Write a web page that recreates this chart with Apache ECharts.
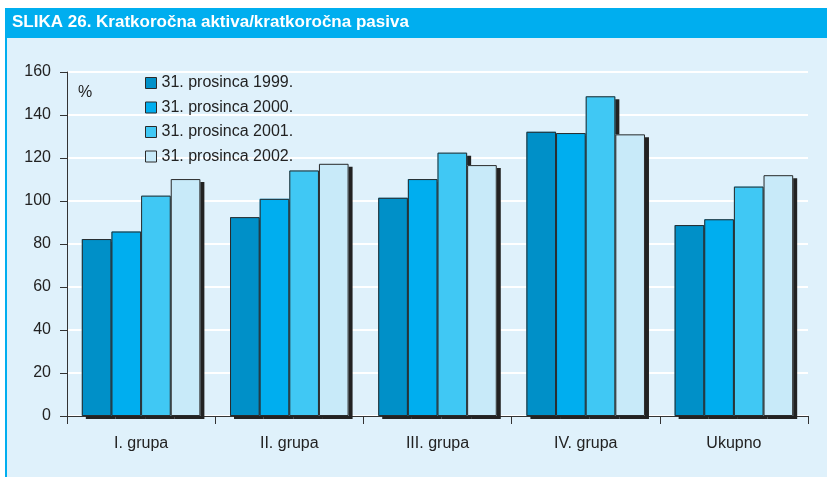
<!DOCTYPE html>
<html>
<head>
<meta charset="utf-8">
<script src="https://cdn.jsdelivr.net/npm/echarts@6/dist/echarts.min.js"></script>
<style>
  html, body { margin:0; padding:0; background:#fff; }
  #chart { width:827px; height:477px; }
</style>
</head>
<body>
<div id="chart"></div>
<script>
// kategorije i vrijednosti (%)
var categories = ['I. grupa', 'II. grupa', 'III. grupa', 'IV. grupa', 'Ukupno'];
var seriesNames = ['31. prosinca 1999.', '31. prosinca 2000.', '31. prosinca 2001.', '31. prosinca 2002.'];
var v1999 = [82.3, 92.5, 101.5, 132.2, 88.8];
var v2000 = [85.8, 101, 110.2, 131.6, 91.5];
var v2001 = [102.5, 114.2, 122.5, 148.7, 106.7];
var v2002 = [110.2, 117.3, 116.7, 131, 112];
var yTicks = [0, 20, 40, 60, 80, 100, 120, 140, 160];

var colors = ['#0090c8', '#00aeef', '#40c8f4', '#c8eaf9'];
var values = [v1999, v2000, v2001, v2002];
var font = 'Liberation Sans, Arial, sans-serif';

var series = [];
// stupci sa sjenom (bez ruba)
for (var i = 0; i < seriesNames.length; i++) {
    series.push({
        name: seriesNames[i],
        type: 'bar',
        xAxisIndex: 0,
        barGap: '0%',
        barCategoryGap: '20%',
        itemStyle: {
            color: colors[i],
            shadowColor: '#222',
            shadowBlur: 0,
            shadowOffsetX: 4,
            shadowOffsetY: 3
        },
        data: values[i]
    });
}
// rubovi stupaca preko (druga, skrivena os)
for (var j = 0; j < seriesNames.length; j++) {
    series.push({
        name: seriesNames[j],
        type: 'bar',
        xAxisIndex: 1,
        barGap: '0%',
        barCategoryGap: '20%',
        z: 3,
        itemStyle: {
            color: 'rgba(0,0,0,0)',
            borderColor: '#2a2a2a',
            borderWidth: 1
        },
        data: values[j]
    });
}

var option = {
    animation: false,
    textStyle: { fontFamily: font },
    graphic: [
        { type: 'rect', z: -10, shape: { x: 5, y: 8, width: 822, height: 469 }, style: { fill: '#dff1fb' } },
        { type: 'rect', z: -9, shape: { x: 5, y: 8, width: 822, height: 30 }, style: { fill: '#00aeef' } },
        { type: 'rect', z: -9, shape: { x: 5, y: 8, width: 2, height: 469 }, style: { fill: '#00aeef' } },
        { type: 'text', left: 12, top: 14, style: { text: 'SLIKA 26. Kratkoročna aktiva/kratkoročna pasiva', fill: '#fff', font: 'bold 17px ' + font } },
        { type: 'text', left: 78, top: 85, style: { text: '%', fill: '#222', font: '16px ' + font } }
    ],
    legend: {
        orient: 'vertical',
        left: 145,
        top: 75,
        padding: 0,
        itemWidth: 11,
        itemHeight: 11,
        itemGap: 8.5,
        icon: 'rect',
        itemStyle: { borderColor: '#2a2a2a', borderWidth: 1 },
        textStyle: { fontSize: 16, color: '#222', lineHeight: 16 },
        data: seriesNames
    },
    grid: { left: 67, right: 19, top: 72, bottom: 61 },
    xAxis: [{
        type: 'category',
        data: categories,
        axisLine: { lineStyle: { color: '#333', width: 1 } },
        axisTick: { show: true, length: 8, lineStyle: { color: '#333' } },
        axisLabel: { fontSize: 16, color: '#222', margin: 20 }
    }, {
        type: 'category',
        data: categories,
        show: false
    }],
    yAxis: {
        type: 'value',
        min: yTicks[0],
        max: yTicks[yTicks.length - 1],
        interval: 20,
        axisLine: { show: true, lineStyle: { color: '#333', width: 1 } },
        axisTick: { show: true, length: 7, lineStyle: { color: '#333' } },
        axisLabel: { fontSize: 16, color: '#222', margin: 16 },
        splitLine: { lineStyle: { color: '#ffffff', width: 2 } }
    },
    series: series
};

var myChart = echarts.init(document.getElementById('chart'));
myChart.setOption(option);
</script>
</body>
</html>
